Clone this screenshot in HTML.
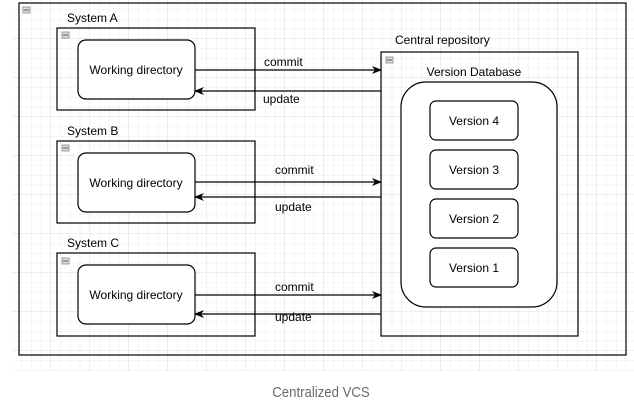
<!DOCTYPE html>
<html><head><meta charset="utf-8"><style>
html,body{margin:0;padding:0;background:#fff;}
svg{display:block;font-family:"Liberation Sans",Arial,sans-serif;}
</style></head><body>
<svg width="634" height="410" viewBox="0 0 634 410" xmlns="http://www.w3.org/2000/svg">
<defs>
<pattern id="g" x="12" y="0" width="9.75" height="9.75" patternUnits="userSpaceOnUse">
<path d="M9.75 0V9.75H0" fill="none" stroke="#ebebeb" stroke-width="1"/>
</pattern>
<pattern id="G" x="12" y="0" width="39" height="39" patternUnits="userSpaceOnUse">
<path d="M39 0V39H0" fill="none" stroke="#dcdcdc" stroke-width="1"/>
</pattern>
<marker id="a" markerWidth="10" markerHeight="10" refX="9" refY="5" orient="auto" markerUnits="userSpaceOnUse">
<path d="M0 1L10 5L0 9L3 5Z" fill="#000"/>
</marker>
</defs>
<rect x="12" y="0" width="622" height="371" fill="url(#g)"/>
<rect x="12" y="0" width="622" height="371" fill="url(#G)"/>
<g fill="none" stroke="#000" stroke-width="1.2">
<rect x="19" y="3" width="607" height="352"/>
<rect x="57" y="28" width="198" height="82"/>
<rect x="57" y="141" width="198" height="82"/>
<rect x="57" y="253" width="198" height="83"/>
<rect x="381" y="52" width="197" height="284"/>
</g>
<g fill="#fff" stroke="#000" stroke-width="1.2">
<rect x="78" y="40" width="117" height="59" rx="8"/>
<rect x="78" y="153" width="117" height="59" rx="8"/>
<rect x="78" y="265" width="117" height="59" rx="8"/>
<rect x="401" y="82" width="156" height="225" rx="25"/>
<rect x="430" y="101" width="88" height="39" rx="6"/>
<rect x="430" y="150" width="88" height="39" rx="6"/>
<rect x="430" y="199" width="88" height="39" rx="6"/>
<rect x="430" y="248" width="88" height="39" rx="6"/>
</g>
<g fill="#ddd" stroke="#888" stroke-width="0.8">
<rect x="23" y="7" width="7" height="6"/>
<rect x="62" y="32" width="7" height="6"/>
<rect x="62" y="145" width="7" height="6"/>
<rect x="62" y="258" width="7" height="6"/>
<rect x="386" y="57" width="7" height="6"/>
</g>
<g stroke="#555" stroke-width="1"><path d="M24 10h5M63 35h5M63 148h5M63 261h5M387 60h5"/></g>
<g stroke="#000" stroke-width="1.2" marker-end="url(#a)">
<line x1="195" y1="70" x2="381" y2="70"/>
<line x1="381" y1="91" x2="195" y2="91"/>
<line x1="195" y1="182" x2="381" y2="182"/>
<line x1="381" y1="197" x2="195" y2="197"/>
<line x1="195" y1="295" x2="381" y2="295"/>
<line x1="381" y1="314" x2="195" y2="314"/>
</g>
<g font-size="12" fill="#000">
<text x="67" y="22">System A</text>
<text x="67" y="135">System B</text>
<text x="67" y="247">System C</text>
<text x="395" y="44">Central repository</text>
<text x="264" y="66">commit</text>
<text x="263" y="103">update</text>
<text x="275" y="174">commit</text>
<text x="275" y="211">update</text>
<text x="275" y="291">commit</text>
<text x="275" y="321">update</text>
<g text-anchor="middle">
<text x="136" y="74">Working directory</text>
<text x="136" y="187">Working directory</text>
<text x="136" y="299">Working directory</text>
<text x="474" y="76">Version Database</text>
<text x="474" y="125">Version 4</text>
<text x="474" y="174">Version 3</text>
<text x="474" y="223">Version 2</text>
<text x="474" y="272">Version 1</text>
</g>
</g>
<text x="0" y="0" text-anchor="middle" font-size="15" fill="#6b6b6b" transform="translate(321,397) scale(0.88,1)">Centralized VCS</text>
</svg>
</body></html>
